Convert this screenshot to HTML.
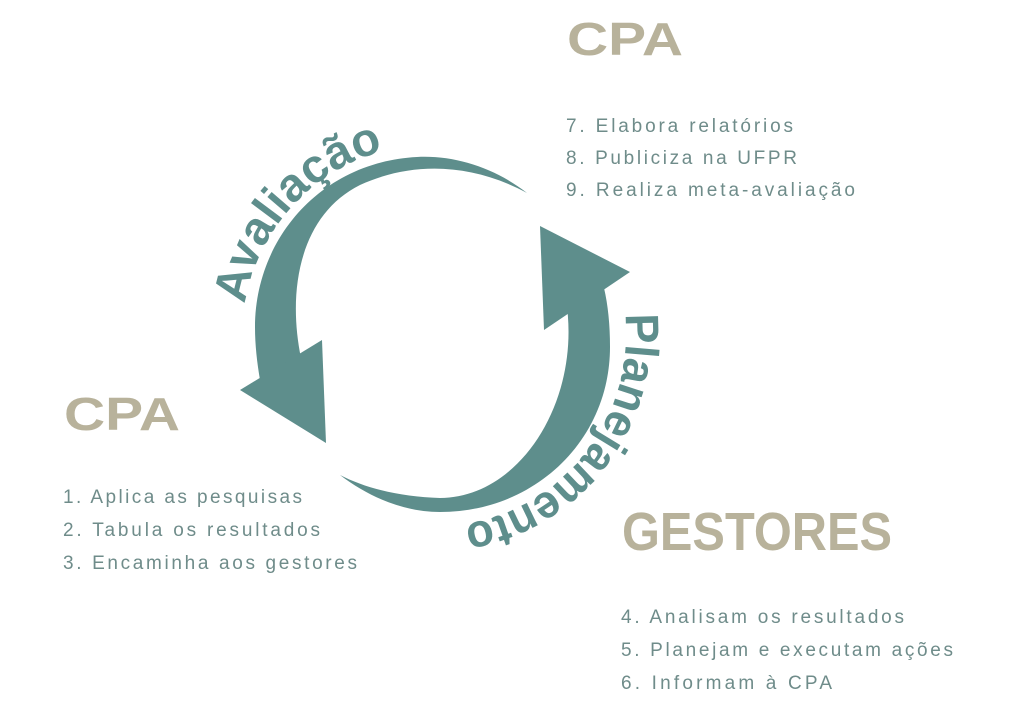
<!DOCTYPE html>
<html><head><meta charset="utf-8"><style>
html,body{margin:0;padding:0;background:#fff;}
svg{display:block;}
.t{font-family:"Liberation Sans",sans-serif;font-weight:bold;fill:#b8b29b;}
.l{font-family:"Liberation Sans",sans-serif;font-size:19px;fill:#6f8c8a;}
.c{font-family:"Liberation Sans",sans-serif;font-weight:bold;font-size:47px;fill:#5e8e8c;}
</style></head><body>
<svg width="1024" height="707" viewBox="0 0 1024 707" xmlns="http://www.w3.org/2000/svg">
<defs>
<path id="pa" d="M245,304 A190 190 0 0 1 387,150"/>
<path id="pb" d="M625,314 A193 193 0 0 1 466.5,524"/>
</defs>
<!-- upper arrow -->
<path d="M527,193 C 495,168 455,155 417,157 C 320,162 255,240 255,327 C 255,345 257,362 260,380 L301,358 C 287,290 300,215 360,185 C 410,162 470,162 527,193 Z" fill="#5e8e8c"/>
<polygon points="240,390 322,340 326,443" fill="#5e8e8c"/>
<!-- lower arrow -->
<path d="M340,475 C 370,498 405,512 440,512 C 535,512 610,440 610,347 C 610,325 608,305 604,288 L566,300 C 582,400 520,498 440,498 C 400,497 365,488 340,475 Z" fill="#5e8e8c"/>
<polygon points="540,226 630,272 544,330" fill="#5e8e8c"/>
<text class="c"><textPath href="#pa" textLength="218" lengthAdjust="spacingAndGlyphs">Avaliação</textPath></text>
<text class="c"><textPath href="#pb" textLength="292" lengthAdjust="spacingAndGlyphs">Planejamento</textPath></text>

<text class="t" x="567" y="55" font-size="46" textLength="116" lengthAdjust="spacingAndGlyphs">CPA</text>
<text class="t" x="64" y="430" font-size="46" textLength="116" lengthAdjust="spacingAndGlyphs">CPA</text>
<text class="t" x="622" y="550" font-size="54" textLength="270" lengthAdjust="spacingAndGlyphs">GESTORES</text>

<text class="l" x="566" y="132" textLength="227">7. Elabora relatórios</text>
<text class="l" x="566" y="164" textLength="231">8. Publiciza na UFPR</text>
<text class="l" x="566" y="196" textLength="289">9. Realiza meta-avaliação</text>

<text class="l" x="63" y="503" textLength="239">1. Aplica as pesquisas</text>
<text class="l" x="63" y="536" textLength="257">2. Tabula os resultados</text>
<text class="l" x="63" y="569" textLength="294">3. Encaminha aos gestores</text>

<text class="l" x="621" y="623" textLength="283">4. Analisam os resultados</text>
<text class="l" x="621" y="656" textLength="332">5. Planejam e executam ações</text>
<text class="l" x="621" y="689" textLength="211">6. Informam à CPA</text>
</svg>
</body></html>
